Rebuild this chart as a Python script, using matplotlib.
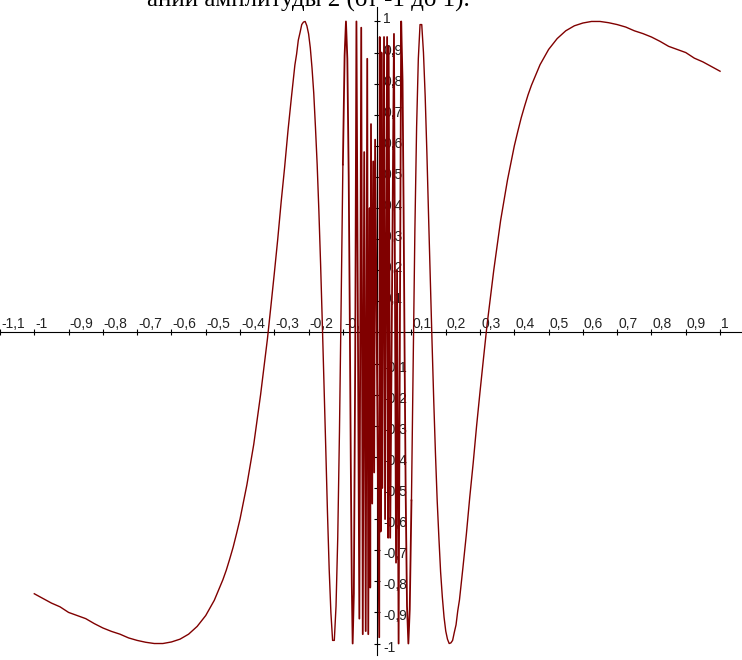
import numpy as np
import matplotlib
matplotlib.use("Agg")
import matplotlib.pyplot as plt
from matplotlib.transforms import offset_copy

# curve, left branch (x from -1 to -0.1)
left_pts = [(-1.0, -0.84), (-0.975, -0.855), (-0.95, -0.87), (-0.925, -0.882), (-0.9, -0.9),
            (-0.875, -0.91), (-0.85, -0.92), (-0.825, -0.936), (-0.8, -0.95), (-0.775, -0.961),
            (-0.75, -0.97), (-0.725, -0.982), (-0.7, -0.99), (-0.675, -0.996), (-0.65, -1.0),
            (-0.625, -1.0), (-0.6, -0.995), (-0.575, -0.986), (-0.55, -0.97), (-0.525, -0.945),
            (-0.5, -0.91), (-0.475, -0.861), (-0.45, -0.795), (-0.44, -0.764), (-0.43, -0.728),
            (-0.42, -0.69), (-0.41, -0.646), (-0.4, -0.6), (-0.39, -0.545), (-0.38, -0.49),
            (-0.37, -0.425), (-0.36, -0.36), (-0.35, -0.28), (-0.34, -0.2), (-0.33, -0.11),
            (-0.32, -0.02), (-0.31, 0.084), (-0.3, 0.19), (-0.29, 0.3), (-0.28, 0.42),
            (-0.27, 0.53), (-0.26, 0.65), (-0.25, 0.757), (-0.24, 0.86), (-0.235, 0.895),
            (-0.23, 0.94), (-0.225, 0.964), (-0.22, 0.99), (-0.215, 0.998), (-0.21, 1.0),
            (-0.205, 0.986), (-0.2, 0.96), (-0.195, 0.915), (-0.19, 0.85), (-0.185, 0.77),
            (-0.18, 0.66), (-0.175, 0.54), (-0.17, 0.39), (-0.165, 0.22), (-0.16, 0.03),
            (-0.155, -0.17), (-0.15, -0.37), (-0.145, -0.577), (-0.14, -0.76), (-0.135, -0.9),
            (-0.13, -0.99), (-0.125, -0.99), (-0.12, -0.88), (-0.115, -0.66), (-0.11, -0.32),
            (-0.105, 0.1), (-0.1, 0.54)]

# dense zigzag around zero
mid_pts = [(-0.1, 0.54), (-0.095, 0.89), (-0.091, 1.0), (-0.087, 0.88), (-0.083, 0.5),
           (-0.08, 0.07), (-0.077, -0.41), (-0.074, -0.81), (-0.0715, -1.0), (-0.068, -0.84),
           (-0.064, -0.08), (-0.0605, 1.0), (-0.052, -0.92), (-0.0465, 0.98), (-0.042, -0.97),
           (-0.0378, 0.58), (-0.0334, -0.96), (-0.029, 0.88), (-0.026, -0.97), (-0.0218, 0.4),
           (-0.0203, -0.82), (-0.018, 0.67), (-0.0145, -0.55), (-0.0116, 0.55), (-0.0087, -0.45),
           (-0.006, 0.62), (0.006, -0.98), (0.0075, 0.95), (0.01, -0.64), (0.0125, 0.9),
           (0.015, -0.5), (0.02, 0.95), (0.023, -0.6), (0.029, 0.95), (0.032, -0.66),
           (0.0335, 0.92), (0.038, -0.66), (0.049, 0.96), (0.055, -0.74), (0.058, 0.2),
           (0.0625, -1.0), (0.07, 1.0), (0.074, 0.81), (0.077, 0.41), (0.08, -0.07),
           (0.083, -0.5), (0.087, -0.88), (0.091, -1.0), (0.095, -0.89), (0.1, -0.54)]

# right branch (x from 0.1 to 1)
right_pts = [(0.1, -0.54), (0.105, -0.1), (0.11, 0.33), (0.115, 0.66), (0.12, 0.88),
             (0.125, 0.99), (0.13, 0.99), (0.135, 0.9), (0.14, 0.76), (0.145, 0.577),
             (0.15, 0.37), (0.155, 0.17), (0.16, -0.03), (0.165, -0.22), (0.17, -0.39),
             (0.175, -0.54), (0.18, -0.66), (0.185, -0.77), (0.19, -0.85), (0.195, -0.915),
             (0.2, -0.96), (0.205, -0.986), (0.21, -1.0), (0.215, -0.998), (0.22, -0.99),
             (0.225, -0.964), (0.23, -0.94), (0.235, -0.895), (0.24, -0.86), (0.25, -0.757),
             (0.26, -0.65), (0.27, -0.53), (0.28, -0.42), (0.29, -0.3), (0.3, -0.19),
             (0.31, -0.084), (0.32, 0.02), (0.33, 0.11), (0.34, 0.2), (0.35, 0.28),
             (0.36, 0.36), (0.37, 0.425), (0.38, 0.49), (0.39, 0.545), (0.4, 0.6),
             (0.41, 0.646), (0.42, 0.69), (0.43, 0.728), (0.44, 0.764), (0.45, 0.795),
             (0.475, 0.861), (0.5, 0.91), (0.525, 0.945), (0.55, 0.97), (0.575, 0.986),
             (0.6, 0.995), (0.625, 1.0), (0.65, 1.0), (0.675, 0.996), (0.7, 0.99),
             (0.725, 0.982), (0.75, 0.97), (0.775, 0.961), (0.8, 0.95), (0.825, 0.936),
             (0.85, 0.92), (0.875, 0.91), (0.9, 0.9), (0.925, 0.882), (0.95, 0.87),
             (0.975, 0.855), (1.0, 0.84)]

x_ticks = [-1.1, -1.0, -0.9, -0.8, -0.7, -0.6, -0.5, -0.4, -0.3, -0.2, -0.1, 0.0,
           0.1, 0.2, 0.3, 0.4, 0.5, 0.6, 0.7, 0.8, 0.9, 1.0]
x_labels = ["-1,1", "-1", "-0,9", "-0,8", "-0,7", "-0,6", "-0,5", "-0,4", "-0,3", "-0,2",
            "-0,1", "0", "0,1", "0,2", "0,3", "0,4", "0,5", "0,6", "0,7", "0,8", "0,9", "1"]
y_ticks = [1.0, 0.9, 0.8, 0.7, 0.6, 0.5, 0.4, 0.3, 0.2, 0.1,
           -0.1, -0.2, -0.3, -0.4, -0.5, -0.6, -0.7, -0.8, -0.9, -1.0]
y_labels = ["1", "0,9", "0,8", "0,7", "0,6", "0,5", "0,4", "0,3", "0,2", "0,1",
            "-0,1", "-0,2", "-0,3", "-0,4", "-0,5", "-0,6", "-0,7", "-0,8", "-0,9", "-1"]

caption = "ании амплитуды 2 (от -1 до 1)."

left = np.array(left_pts)
mid = np.array(mid_pts)
right = np.array(right_pts)

fig = plt.figure(figsize=(7.42, 6.6), dpi=100)
ax = fig.add_axes([0, 0, 1, 1])
ax.set_xlim(-1.093, 1.064)
ax.set_ylim(-1.053, 1.069)

line_color = "#800000"
ax.plot(left[:, 0], left[:, 1], color=line_color, linewidth=1.0, zorder=3)
ax.plot(mid[:, 0], mid[:, 1], color=line_color, linewidth=1.3, zorder=3)
ax.plot(right[:, 0], right[:, 1], color=line_color, linewidth=1.0, zorder=3)

# axes through the origin
for side in ["left", "bottom"]:
    ax.spines[side].set_visible(False)
ax.spines["top"].set_position(("data", 0))
ax.spines["right"].set_position(("data", 0))
ax.spines["right"].set_bounds(-1.037, 1.046)
for side in ["top", "right"]:
    ax.spines[side].set_linewidth(0.8)
    ax.spines[side].set_zorder(2)
ax.xaxis.tick_top()
ax.yaxis.tick_right()
ax.set_xticks(x_ticks)
ax.set_yticks(y_ticks)
ax.set_xticklabels([])
ax.set_yticklabels([])
ax.tick_params(axis="both", direction="inout", length=4, width=0.8, color="black")
ax.patch.set_visible(False)

lab_font = dict(family="Liberation Sans", fontsize=10, color="#222222", zorder=1)
for t, s in zip(x_ticks, x_labels):
    tr = offset_copy(ax.transData, fig=fig, x=1, y=4, units="dots")
    ax.text(t, 0, s, transform=tr, ha="left", va="baseline", **lab_font)
for t, s in zip(y_ticks, y_labels):
    dy = -2 if t > 0 else -8
    tr = offset_copy(ax.transData, fig=fig, x=6, y=dy, units="dots")
    ax.text(0, t, s, transform=tr, ha="left", va="baseline", **lab_font)

# caption from the page above the chart, mostly cut off by the top edge
fig.text(470 / 742, 1 - 7 / 660, caption, ha="right", va="baseline",
         family="Liberation Serif", fontsize=18, color="black")

fig.savefig("out.png", dpi=100, facecolor="white")
